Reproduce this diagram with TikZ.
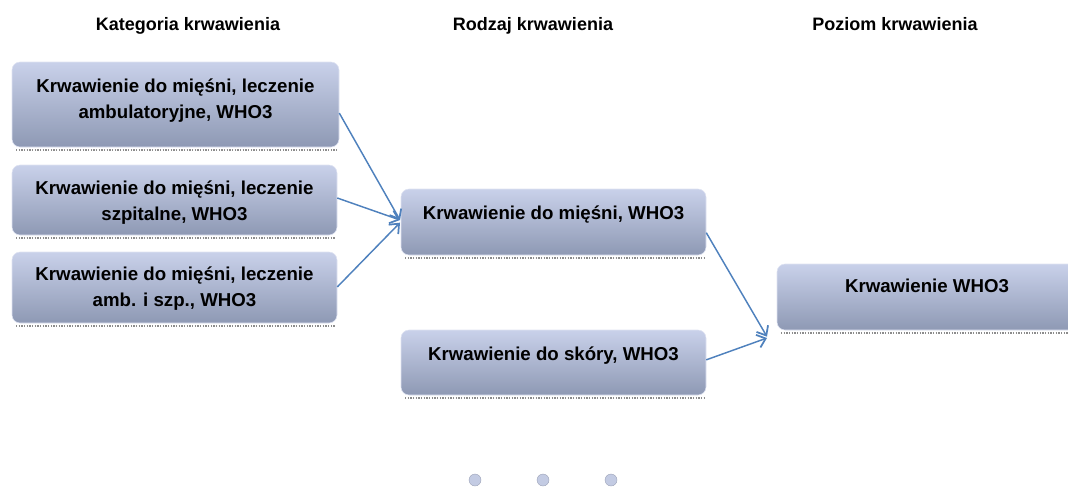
\documentclass[tikz,border=0pt]{standalone}
\usepackage{fontspec}
\setmainfont{Liberation Sans}
\usetikzlibrary{arrows.meta}
\definecolor{boxtop}{HTML}{C9D1EA}
\definecolor{boxbot}{HTML}{8E99B4}
\definecolor{arrowblue}{HTML}{4F81BD}
\definecolor{dotfill}{HTML}{C3CBE3}
\tikzset{
  box/.style={rectangle, rounded corners=6pt, top color=boxtop, bottom color=boxbot,
    draw=boxtop!60!white, line width=0.4pt, inner sep=0pt},
  boxtext/.style={anchor=north, align=center, font=\bfseries\fontsize{14}{19.5}\selectfont, inner sep=0pt},
  head/.style={anchor=base, font=\bfseries\fontsize{13.5}{16}\selectfont},
  conn/.style={draw=arrowblue, line width=1.1pt, -{Straight Barb[length=6pt,width=10pt,line width=1.3pt]}},
  shadowline/.style={draw=black!45, line width=1.6pt, dash pattern=on 1pt off 1pt},
  pager/.style={circle, fill=dotfill, draw=dotfill!80!black, line width=0.3pt, minimum size=9pt, inner sep=0pt}
}
\begin{document}
\begin{tikzpicture}[x=0.75pt,y=-0.75pt]
\useasboundingbox (0,0) rectangle (1068,486);
% headers
\node[head] (h1) at (188,30) {Kategoria krwawienia};
\node[head] (h2) at (533,30) {Rodzaj krwawienia};
\node[head] (h3) at (895,30) {Poziom krwawienia};
% shadows
\draw[shadowline] (16,150) -- (337,150);
\draw[shadowline] (16,238) -- (335,238);
\draw[shadowline] (16,326) -- (335,326);
\draw[shadowline] (405,258) -- (704,258);
\draw[shadowline] (405,398) -- (704,398);
\draw[shadowline] (781,333) -- (1068,333);
% boxes
\node[box, minimum width=327*0.75pt, minimum height=85*0.75pt] (b1) at (175.5,104.5) {};
\node[box, minimum width=325*0.75pt, minimum height=70*0.75pt] (b2) at (174.5,200) {};
\node[box, minimum width=325*0.75pt, minimum height=71*0.75pt] (b3) at (174.5,287.5) {};
\node[box, minimum width=305*0.75pt, minimum height=66*0.75pt] (m1) at (553.5,222) {};
\node[box, minimum width=305*0.75pt, minimum height=65*0.75pt] (m2) at (553.5,362.5) {};
\node[box, minimum width=300*0.75pt, minimum height=66*0.75pt] (r1) at (927,297) {};
% texts
\node[boxtext] (t1) at (175.5,79) {Krwawienie do mięśni, leczenie\\ambulatoryjne, WHO3};
\node[boxtext] (t2) at (174.5,181) {Krwawienie do mięśni, leczenie\\szpitalne, WHO3};
\node[boxtext] (t3) at (174.5,267) {Krwawienie do mięśni, leczenie\\amb. i szp., WHO3};
\node[boxtext] (t4) at (553.5,206) {Krwawienie do mięśni, WHO3};
\node[boxtext] (t5) at (553.5,347) {Krwawienie do skóry, WHO3};
\node[boxtext] (t6) at (927,279) {Krwawienie WHO3};
% connectors
\coordinate (in1) at (400,220);
\coordinate (in2) at (767,338);
\draw[conn] ([yshift=-6.4pt]b1.east) -- (in1);
\draw[conn] ([yshift=1.5pt]b2.east) -- (in1);
\draw[conn] ([yshift=0.4pt]b3.east) -- ([yshift=-2pt]in1);
\draw[conn] ([yshift=-8pt]m1.east) -- ([yshift=1pt]in2);
\draw[conn] ([yshift=2pt]m2.east) -- (in2);
% pager dots
\node[pager] (d1) at (475,480) {};
\node[pager] (d2) at (543,480) {};
\node[pager] (d3) at (611,480) {};
\end{tikzpicture}
\end{document}
